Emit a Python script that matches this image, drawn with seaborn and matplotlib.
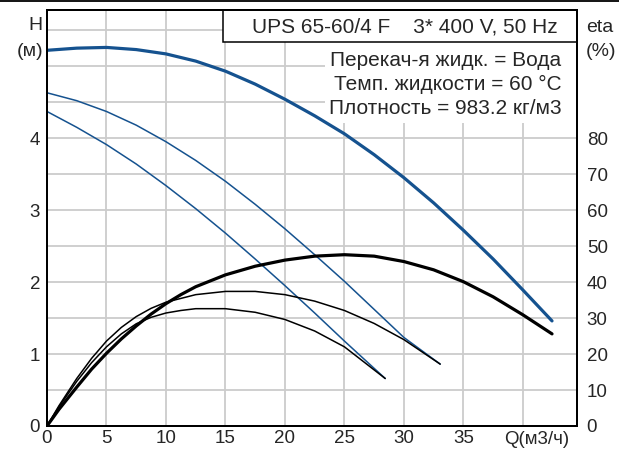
import numpy as np
import pandas as pd
import matplotlib
matplotlib.use("Agg")
import matplotlib.pyplot as plt
from matplotlib.patches import Rectangle
from matplotlib.lines import Line2D
import seaborn as sns

# ---------------- data ----------------
# Head curves H (m) vs Q (m3/h)
q_h_max = [0, 2.5, 5, 7.5, 10, 12.5, 15, 17.5, 20, 22.5, 25, 27.5, 30, 32.5, 35, 37.5, 40, 42.45]
h_max = [5.22, 5.25, 5.26, 5.23, 5.17, 5.07, 4.93, 4.75, 4.54, 4.31, 4.06, 3.77, 3.45, 3.10, 2.72, 2.32, 1.89, 1.46]

q_h_mid = [0, 2.5, 5, 7.5, 10, 12.5, 15, 17.5, 20, 22.5, 25, 27.5, 30, 33.05]
h_mid = [4.63, 4.52, 4.37, 4.18, 3.95, 3.69, 3.40, 3.08, 2.74, 2.38, 2.01, 1.62, 1.23, 0.86]

q_h_min = [0, 2.5, 5, 7.5, 10, 12.5, 15, 17.5, 20, 22.5, 25, 28.43]
h_min = [4.37, 4.15, 3.91, 3.64, 3.34, 3.02, 2.68, 2.32, 1.95, 1.57, 1.18, 0.66]

# Efficiency curves eta (%) vs Q (m3/h)
q_e_max = [0, 1, 2.5, 3.75, 5, 6.25, 7.5, 8.75, 10, 11.25, 12.5, 15, 17.5, 20, 22.5, 25,
           27.5, 30, 32.5, 35, 37.5, 40, 42.45]
eta_max = [0, 4.6, 10.8, 15.8, 20.2, 24.2, 27.8, 31.1, 34.0, 36.5, 38.7, 42.0, 44.4, 46.1,
           47.2, 47.6, 47.2, 45.7, 43.4, 40.1, 35.9, 30.9, 25.6]

q_e_mid = [0, 1, 2.5, 3.75, 5, 6.25, 7.5, 8.75, 10, 12.5, 15, 17.5, 20, 22.5, 25, 27.5, 30, 33.05]
eta_mid = [0, 5.6, 13.2, 18.8, 23.6, 27.4, 30.4, 32.7, 34.4, 36.5, 37.4, 37.4, 36.5, 34.7,
           32.1, 28.5, 24.0, 17.2]

q_e_min = [0, 1, 2.5, 3.75, 5, 6.25, 7.5, 8.75, 10, 11.25, 12.5, 15, 17.5, 20, 22.5, 25, 28.43]
eta_min = [0, 5.3, 12.4, 17.6, 22.0, 25.6, 28.4, 30.2, 31.4, 32.1, 32.6, 32.6, 31.6, 29.6,
           26.4, 22.0, 13.2]

x_ticks = [0, 5, 10, 15, 20, 25, 30, 35, 40]
x_labels = ["0", "5", "10", "15", "20", "25", "30", "35", ""]
y_ticks = [0, 0.5, 1, 1.5, 2, 2.5, 3, 3.5, 4, 4.5, 5, 5.5]
y_labels = ["0", "", "1", "", "2", "", "3", "", "4", "", "", ""]
eta_ticks = [0, 10, 20, 30, 40, 50, 60, 70, 80]

header = "UPS 65-60/4 F    3* 400 V, 50 Hz"
info_lines = ["Перекач-я жидк. = Вода", "Темп. жидкости = 60 °C", "Плотность = 983.2 кг/м3"]

# ---------------- styling ----------------
sns.set_theme(style="white")
plt.rcParams["font.family"] = ["Liberation Sans", "DejaVu Sans"]
FS_TICK = 13.5
FS_TITLE = 14
FS_TEXT = 15
BLUE = "#15528f"

W, Hpx = 619, 450
fig = plt.figure(figsize=(W / 100, Hpx / 100), dpi=100)
L, R, T, B = 47, 577, 10, 426
ax = fig.add_axes([L / W, 1 - B / Hpx, (R - L) / W, (B - T) / Hpx])
ax2 = ax.twinx()

XMAX = 44.55
YMAX = 5.78
ax.set_xlim(0, XMAX)
ax.set_ylim(0, YMAX)
ax2.set_ylim(0, YMAX * 20)

def ax_y(py):
    return (B - py) / (B - T)

def ax_x(px):
    return (px - L) / (R - L)

# head curves
for q, h, lw in [(q_h_max, h_max, 2.3), (q_h_mid, h_mid, 1.1), (q_h_min, h_min, 1.1)]:
    df = pd.DataFrame({"Q": q, "H": h})
    sns.lineplot(data=df, x="Q", y="H", ax=ax, color=BLUE, lw=lw, sort=False,
                 estimator=None, zorder=4, solid_capstyle="round", solid_joinstyle="round")

# efficiency curves
for q, e, lw in [(q_e_max, eta_max, 2.3), (q_e_mid, eta_mid, 1.1), (q_e_min, eta_min, 1.1)]:
    df = pd.DataFrame({"Q": q, "eta": e})
    sns.lineplot(data=df, x="Q", y="eta", ax=ax2, color="black", lw=lw, sort=False,
                 estimator=None, zorder=3, solid_capstyle="round", solid_joinstyle="round")

# ticks and grid
ax.set_xticks(x_ticks)
ax.set_xticklabels(x_labels, fontsize=FS_TICK)
ax.set_yticks(y_ticks)
ax.set_yticklabels(y_labels, fontsize=FS_TICK)
ax.tick_params(axis="both", length=0)
ax.tick_params(axis="x", pad=3)
ax.tick_params(axis="y", pad=5)
ax.grid(True, color="#cccccc", lw=1.3)
ax.set_axisbelow(True)
ax.set_xlabel("")
ax.set_ylabel("")

ax2.set_yticks(eta_ticks)
ax2.set_yticklabels([str(t) for t in eta_ticks], fontsize=FS_TICK)
ax2.tick_params(axis="y", length=0, pad=7)
ax2.set_ylabel("")
ax2.grid(False)

for a in (ax, ax2):
    for s in a.spines.values():
        s.set_color("black")
        s.set_linewidth(1.4)
        s.set_zorder(10)

ax2.patch.set_visible(False)

# header box
ax2.add_patch(Rectangle((ax_x(222.7), ax_y(41.7)), 1 - ax_x(222.7), ax_y(10) - ax_y(41.7),
                        transform=ax2.transAxes, facecolor="white", edgecolor="black",
                        lw=1.1, zorder=6, clip_on=False))
ax2.text(ax_x(558), ax_y(32.5), header, transform=ax2.transAxes, ha="right",
         va="baseline", fontsize=FS_TEXT, zorder=7)

# info box (white, no border)
ax.add_patch(Rectangle((ax_x(325), ax_y(123)), 1 - ax_x(325), ax_y(41.7) - ax_y(123),
                       transform=ax.transAxes, facecolor="white", edgecolor="none",
                       zorder=2))
for line, py in zip(info_lines, [66.5, 90, 114.5]):
    ax2.text(ax_x(561.5), ax_y(py), line, transform=ax2.transAxes, ha="right",
             va="baseline", fontsize=FS_TEXT, zorder=7)

# axis titles
fig.text(43 / W, 1 - 29.5 / Hpx, "H", ha="right", va="baseline", fontsize=FS_TITLE)
fig.text(43 / W, 1 - 56 / Hpx, "(м)", ha="right", va="baseline", fontsize=FS_TITLE)
fig.text(586 / W, 1 - 32.5 / Hpx, "eta", ha="left", va="baseline", fontsize=FS_TITLE)
fig.text(586 / W, 1 - 56 / Hpx, "(%)", ha="left", va="baseline", fontsize=FS_TITLE)
ax.text(41.2, -13.5 / (B - T), "Q(м3/ч)", transform=ax.get_xaxis_transform(),
        ha="center", va="center", fontsize=FS_TICK)

# thin rule at top edge of image
fig.add_artist(Line2D([0, 1], [1 - 0.8 / Hpx, 1 - 0.8 / Hpx], color="black", lw=1.3,
                      transform=fig.transFigure))

fig.savefig("out.png", dpi=100)
